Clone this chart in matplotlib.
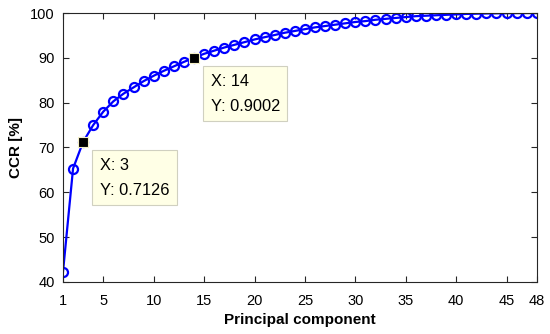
import matplotlib.pyplot as plt

plt.rcParams['font.family'] = ['Liberation Sans', 'DejaVu Sans']

components = list(range(1, 49))
ccr = [42.2, 65.3, 71.26, 75.0, 78.0, 80.3, 82.0, 83.4, 84.8, 86.0,
       87.1, 88.1, 89.1, 90.02, 90.9, 91.6, 92.3, 92.9, 93.5, 94.1,
       94.6, 95.1, 95.6, 96.0, 96.4, 96.8, 97.1, 97.4, 97.7, 98.0,
       98.2, 98.5, 98.7, 98.9, 99.1, 99.3, 99.4, 99.5, 99.6, 99.7,
       99.8, 99.85, 99.9, 99.93, 99.96, 99.98, 99.99, 100.0]

xticks = [1, 5, 10, 15, 20, 25, 30, 35, 40, 45, 48]
yticks = [40, 50, 60, 70, 80, 90, 100]

# data tips at these components
tips = [3, 14]

fig = plt.figure(figsize=(5.5, 3.34), dpi=100)
ax = fig.add_axes([0.1145, 0.156, 0.8615, 0.805])

ax.plot(components, ccr, '-o', color='#0000ff', lw=1.6, ms=6.5,
        mfc='none', mew=1.6)

for x in tips:
    y = ccr[x - 1]
    ax.plot(x, y, 's', color='black', ms=7, mec='#f5f0c8', mew=0.8, zorder=5)
    ax.annotate(f"X: {x}\nY: {y / 100:.4f}", xy=(x, y), xytext=(12, -11.5),
                textcoords='offset points', ha='left', va='top',
                fontsize=11.8, linespacing=1.85,
                bbox=dict(boxstyle='square,pad=0.45', fc='#ffffe6', ec='#d0d0c0', lw=0.8),
                zorder=6)

ax.set_xlim(1, 48)
ax.set_ylim(40, 100)
ax.set_xticks(xticks)
ax.set_yticks(yticks)
ax.tick_params(direction='in', top=True, right=True, labelsize=10.5,
               length=4, width=0.8, color='#262626')
ax.tick_params(axis='x', pad=9)
ax.tick_params(axis='y', pad=6)
for s in ax.spines.values():
    s.set_color('#262626')
    s.set_linewidth(0.8)

ax.set_xlabel("Principal component", fontsize=11, fontweight='bold', labelpad=3)
ax.set_ylabel("CCR [%]", fontsize=11, fontweight='bold', labelpad=5)

fig.savefig("out.png", dpi=100)
